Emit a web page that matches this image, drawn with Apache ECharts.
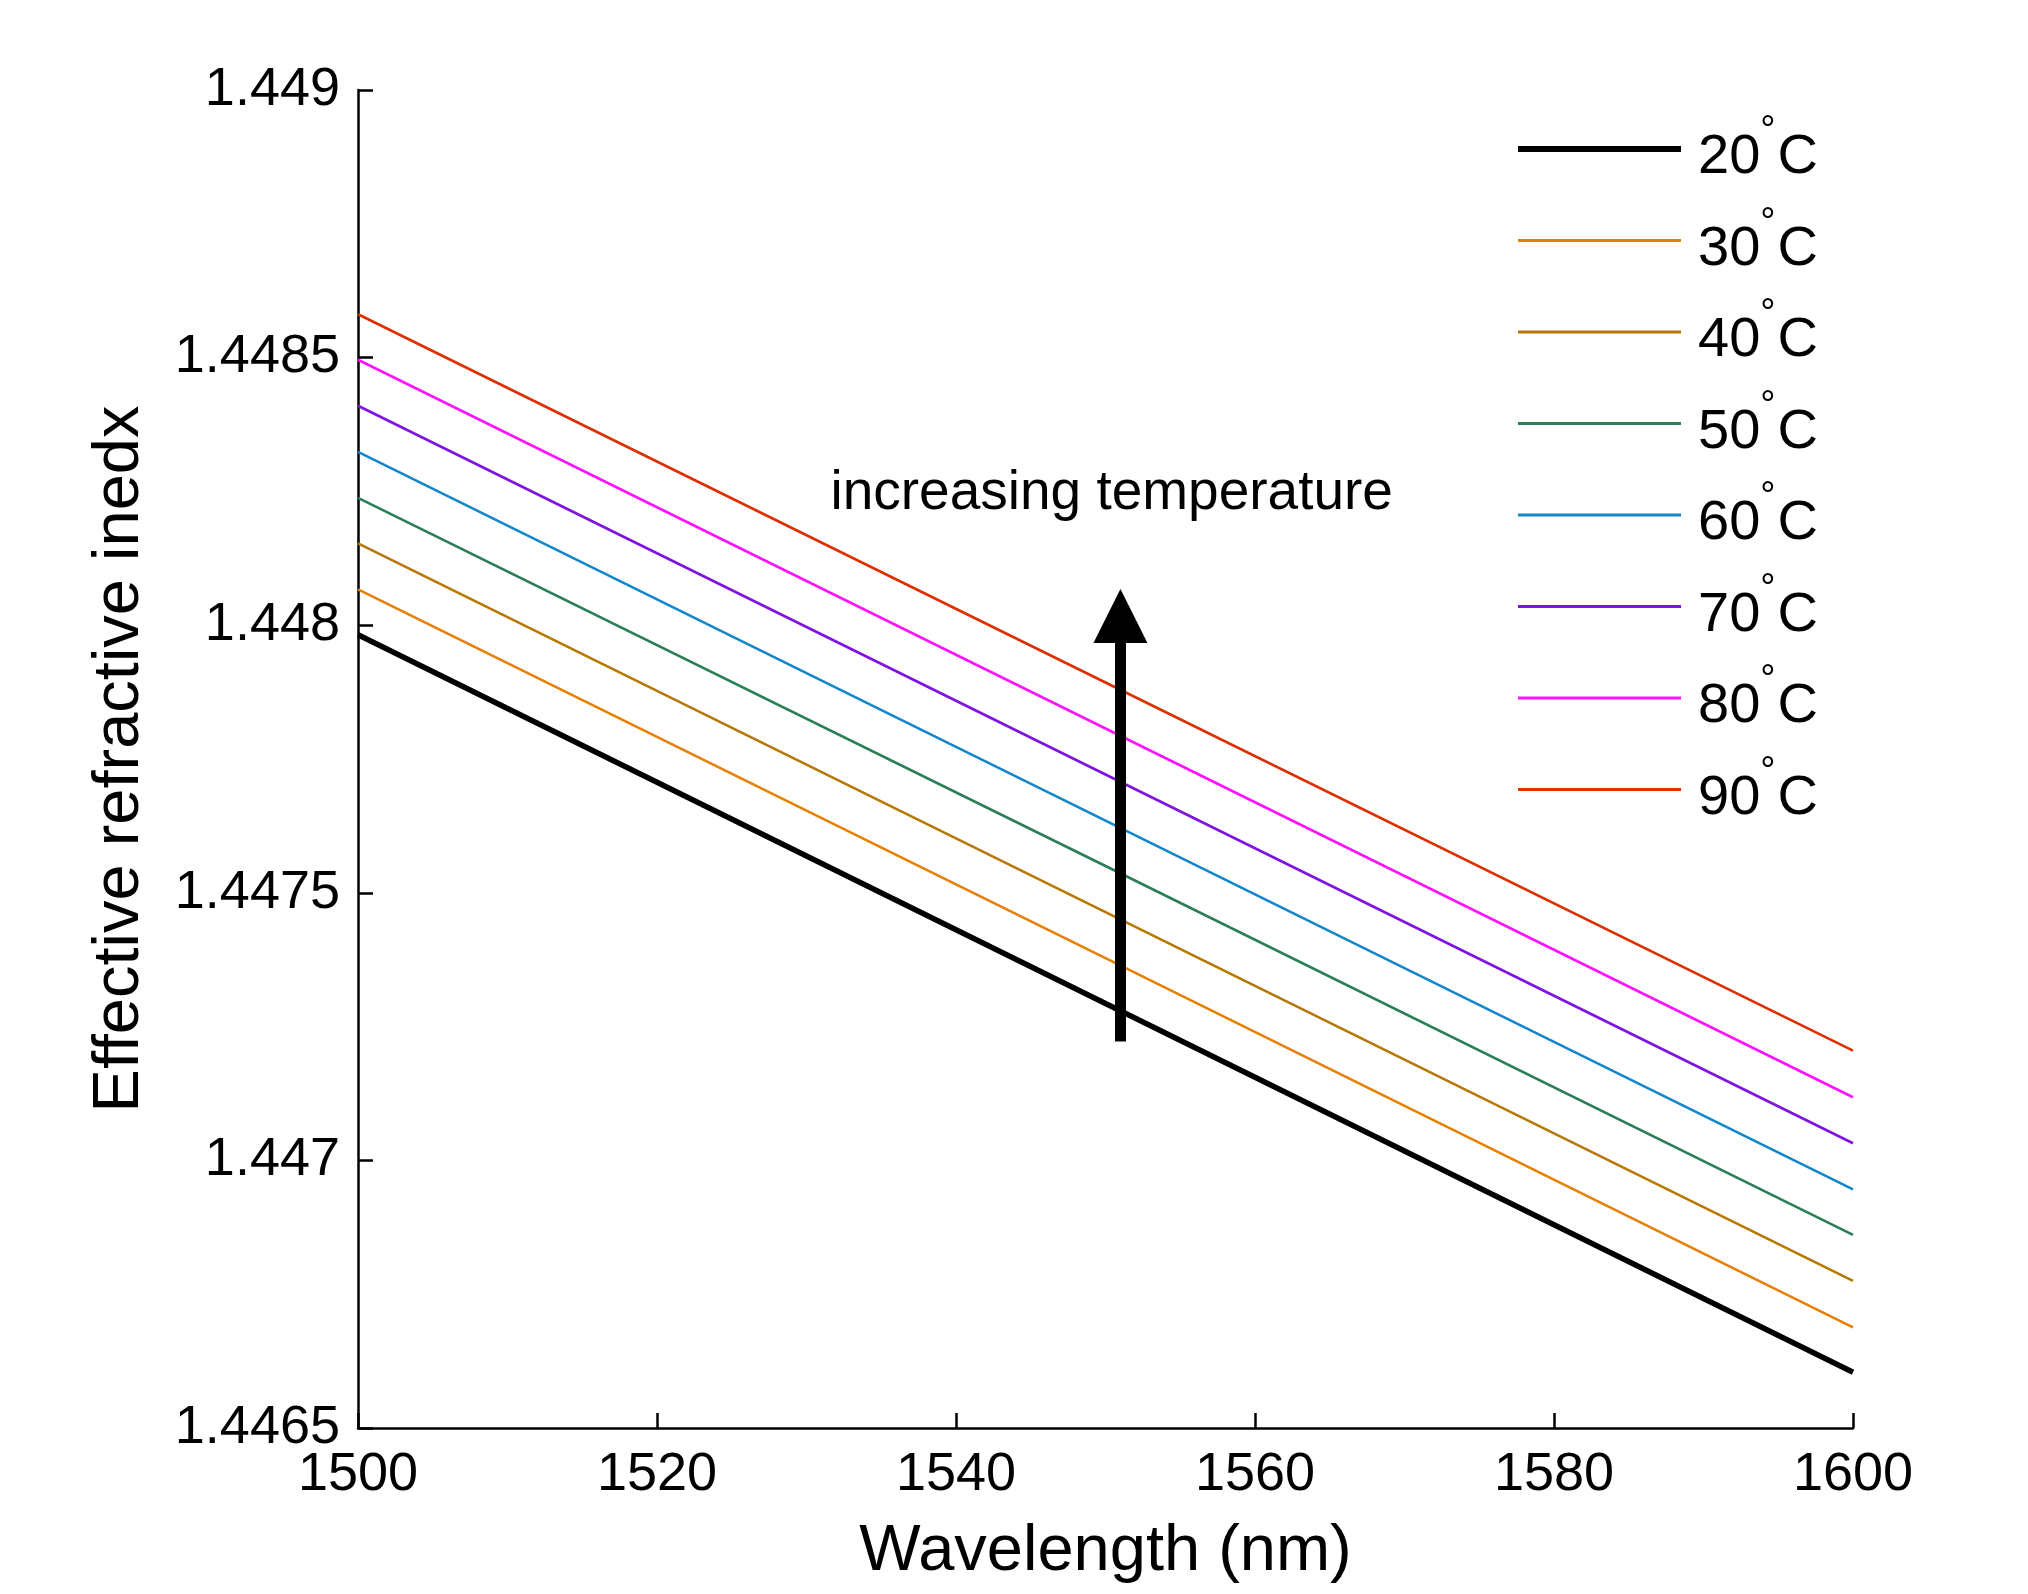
<!DOCTYPE html>
<html>
<head>
<meta charset="utf-8">
<title>Effective refractive index vs wavelength</title>
<script src="https://cdn.jsdelivr.net/npm/echarts@6/dist/echarts.min.js"></script>
<style>
	html, body { margin: 0; padding: 0; background: #fff; }
	#chart { width: 2028px; height: 1594px; }
</style>
</head>
<body>
<div id="chart"></div>
<script type="text/javascript">
// wavelengths (nm) where the values were read
var wavelengths = [1500, 1550, 1600];
var temps = [20, 30, 40, 50, 60, 70, 80, 90];
var colors = ['#000000', '#e58000', '#b87800', '#2a7f58', '#1287cc', '#8013e0', '#ff14ff', '#dd3000'];

// effective index per temperature, at 1500 / 1550 / 1600 nm
var n20 = [1.447982, 1.447293, 1.446604];
var n30 = [1.448067, 1.447378, 1.446688];
var n40 = [1.448153, 1.447464, 1.446775];
var n50 = [1.448238, 1.447550, 1.446861];
var n60 = [1.448324, 1.447635, 1.446946];
var n70 = [1.448410, 1.447721, 1.447032];
var n80 = [1.448496, 1.447807, 1.447118];
var n90 = [1.448581, 1.447893, 1.447205];

var yTickLabels = ['1.4465', '1.447', '1.4475', '1.448', '1.4485', '1.449'];
var xTickLabels = ['1500', '1520', '1540', '1560', '1580', '1600'];

// annotation: arrow and its text, in data units
var arrowX = 1551;
var arrowFrom = 1.447222;
var arrowTo = 1.448017;
var annoText = 'increasing temperature';
var annoX = 1531.6;
var annoY = 1.448195;

var font = "'Liberation Sans', Arial, Helvetica, sans-serif";
var allN = [n20, n30, n40, n50, n60, n70, n80, n90];

var series = [];
var legendData = [];
for (var i = 0; i < temps.length; i++) {
	var pts = [];
	for (var j = 0; j < wavelengths.length; j++) {
		pts.push([wavelengths[j], allN[i][j]]);
	}
	series.push({
		name: temps[i] + '°C',
		type: 'line',
		data: pts,
		symbol: 'none',
		showSymbol: false,
		silent: true,
		lineStyle: { color: colors[i], width: i == 0 ? 5.5 : 2.6 },
		itemStyle: { color: colors[i] }
	});
	// plain bar as legend icon, thick one for 20C
	legendData.push({
		name: temps[i] + '°C',
		icon: i == 0 ? 'path://M0,0H163V6H0Z' : 'path://M0,0H163V3H0Z'
	});
}
// the arrow goes on the last series so it is painted on top
series[series.length - 1].markLine = {
	silent: true,
	animation: false,
	symbol: ['none', 'triangle'],
	symbolSize: 54,
	label: { show: false },
	lineStyle: { color: '#000', width: 11, type: 'solid' },
	itemStyle: { color: '#000' },
	emphasis: { disabled: true },
	data: [[{ coord: [arrowX, arrowFrom] }, { coord: [arrowX, arrowTo] }]]
};

var option = {
	backgroundColor: '#fff',
	animation: false,
	textStyle: { fontFamily: font },
	grid: { left: 358, top: 90, width: 1495, height: 1338, containLabel: false },
	legend: {
		orient: 'vertical',
		left: 1518,
		top: 113,
		padding: 0,
		itemWidth: 163,
		itemHeight: 92,
		itemGap: 18.5,
		selectedMode: false,
		itemStyle: { borderWidth: 0 },
		formatter: function (name) {
			return '{n|' + name.replace('°C', '') + '}{s|°}{n|C}';
		},
		textStyle: {
			padding: [18, 0, 0, 12],
			rich: {
				n: { fontSize: 56, lineHeight: 90, fontFamily: font, color: '#000' },
				s: { fontSize: 38, lineHeight: 30, fontFamily: font, color: '#000', verticalAlign: 'top', padding: [0, 2, 0, 0] }
			}
		},
		data: legendData
	},
	xAxis: {
		type: 'value',
		min: 1500,
		max: 1600,
		interval: 20,
		name: 'Wavelength (nm)',
		nameLocation: 'middle',
		nameGap: 92,
		nameTextStyle: { fontSize: 65, color: '#000', fontFamily: font },
		axisLine: { lineStyle: { color: '#000', width: 2.5 } },
		axisTick: { inside: true, length: 15, lineStyle: { color: '#000', width: 2.5 } },
		axisLabel: {
			fontSize: 54, color: '#000', margin: 20, fontFamily: font,
			formatter: function (v) { return xTickLabels[Math.round((v - 1500) / 20)]; }
		},
		splitLine: { show: false }
	},
	yAxis: {
		type: 'value',
		min: 1.4465,
		max: 1.449,
		interval: 0.0005,
		name: 'Effective refractive inedx',
		nameLocation: 'middle',
		nameGap: 205,
		nameTextStyle: { fontSize: 65, color: '#000', fontFamily: font },
		axisLine: { show: true, lineStyle: { color: '#000', width: 2.5 } },
		axisTick: { show: true, inside: true, length: 15, lineStyle: { color: '#000', width: 2.5 } },
		axisLabel: {
			fontSize: 54, color: '#000', margin: 18, fontFamily: font,
			formatter: function (v) { return yTickLabels[Math.round((v - 1.4465) / 0.0005)]; }
		},
		splitLine: { show: false }
	},
	series: series
};

var chart = echarts.init(document.getElementById('chart'));
chart.setOption(option);

// place the annotation text through the chart's own scales
var p = chart.convertToPixel({ seriesIndex: 0 }, [annoX, annoY]);
chart.setOption({
	graphic: [{
		type: 'text',
		x: p[0],
		y: p[1],
		silent: true,
		style: {
			text: annoText,
			fontSize: 55,
			fontFamily: font,
			fill: '#000',
			align: 'left',
			verticalAlign: 'bottom'
		}
	}]
});
</script>
</body>
</html>
